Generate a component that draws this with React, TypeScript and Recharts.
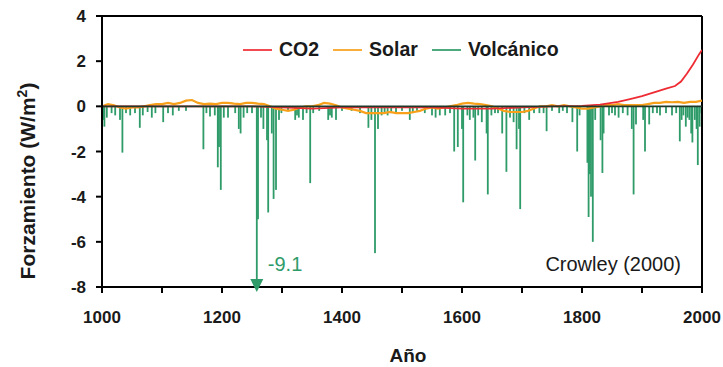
import { ComposedChart, Line, Bar, XAxis, YAxis, Legend, ReferenceLine, ReferenceDot } from 'recharts'

// CO2 forcing (W/m2)
const CO2_YEARS = [1000, 1100, 1200, 1250, 1300, 1350, 1400, 1450, 1500, 1550, 1600, 1650, 1700, 1750, 1800, 1830, 1860, 1880, 1900, 1920, 1940, 1955, 1965, 1975, 1985, 1995, 2000]
const CO2_VALUES = [0, 0, 0, 0, -0.05, -0.1, -0.05, -0.05, -0.05, -0.05, -0.1, -0.1, -0.05, 0, 0.02, 0.08, 0.2, 0.32, 0.45, 0.62, 0.78, 0.9, 1.1, 1.45, 1.85, 2.3, 2.5]

// solar forcing, one value per decade from 1000 to 2000
const SOLAR_YEARS = Array.from({ length: 101 }, (_, i) => 1000 + i * 10)
const SOLAR_VALUES = [
  0, 0.1, 0.05, -0.05, -0.1, -0.05, -0.05, 0, 0.05, 0.1,
  0.1, 0.15, 0.1, 0.15, 0.25, 0.28, 0.15, 0.1, 0.12, 0.1,
  0.15, 0.15, 0.12, 0.1, 0.15, 0.15, 0.12, 0.1, 0, -0.1,
  -0.15, -0.2, -0.15, -0.05, 0, 0, 0.05, 0.15, 0.12, 0.05,
  -0.05, -0.1, -0.15, -0.2, -0.3, -0.3, -0.3, -0.3, -0.25, -0.3,
  -0.3, -0.3, -0.25, -0.2, -0.1, -0.05, -0.1, -0.05, 0, 0.05,
  0.12, 0.15, 0.12, 0.1, 0.05, 0, -0.1, -0.2, -0.25, -0.25,
  -0.25, -0.2, -0.1, 0, 0, 0.05, 0, 0.05, 0, -0.05,
  -0.1, -0.1, -0.05, 0, 0.05, 0.05, 0.1, 0.05, 0.05, 0.05,
  0.05, 0.1, 0.15, 0.15, 0.2, 0.18, 0.2, 0.15, 0.2, 0.2,
  0.25,
]

// volcanic eruptions: year and forcing
const VOLC_YEARS = [
  1002, 1004, 1008, 1016, 1022, 1030, 1034, 1040, 1047, 1055, 1063, 1068, 1076, 1083, 1089, 1102, 1110, 1118, 1128, 1140,
  1169, 1174, 1180, 1188, 1193, 1195, 1198, 1203, 1210, 1222, 1228, 1231, 1236, 1242, 1250,
  1258, 1260, 1265, 1269, 1275, 1277, 1283, 1286, 1290, 1295, 1299, 1310, 1322, 1325, 1328, 1335, 1341, 1347, 1352, 1362,
  1377, 1380, 1383, 1390, 1400, 1416, 1430, 1444, 1449, 1455, 1460, 1466, 1471, 1476, 1482, 1490, 1500, 1513, 1518, 1525,
  1538, 1550, 1556, 1563, 1572, 1580, 1587, 1593, 1600, 1602, 1609, 1613, 1619, 1622, 1627, 1633, 1641, 1643, 1649,
  1655, 1660, 1667, 1674, 1680, 1686, 1691, 1695, 1697, 1704, 1712, 1720, 1729, 1736, 1741, 1750, 1762, 1768, 1775,
  1784, 1792, 1796, 1809, 1811, 1813, 1815, 1818, 1822, 1831, 1834, 1836, 1845, 1850, 1855, 1861, 1868,
  1876, 1883, 1886, 1890, 1902, 1905, 1912, 1918, 1925, 1930, 1940, 1950, 1957, 1963, 1966, 1969, 1973,
  1976, 1979, 1982, 1984, 1988, 1991, 1993, 1996, 1999,
]
const VOLC_VALUES = [
  -0.6, -0.9, -0.5, -0.3, -0.4, -0.6, -2.05, -0.3, -0.4, -0.3, -0.95, -0.4, -0.25, -0.5, -0.3, -0.7, -0.3, -0.4, -0.2, -0.2,
  -1.9, -0.3, -0.45, -0.4, -2.7, -1.8, -3.7, -0.5, -0.5, -0.3, -1.0, -1.2, -0.5, -0.3, -0.3,
  -9.1, -5.0, -0.5, -1.0, -1.5, -4.7, -1.2, -4.1, -3.7, -0.6, -0.3, -0.2, -0.6, -0.4, -0.5, -0.6, -0.3, -3.4, -0.3, -0.2,
  -0.6, -0.4, -0.5, -0.6, -0.2, -0.2, -0.3, -0.95, -0.6, -6.5, -1.0, -0.4, -0.3, -0.4, -0.3, -0.3, -0.2, -0.6, -0.3, -0.2,
  -0.3, -0.4, -0.5, -0.4, -0.4, -0.3, -2.0, -1.8, -1.0, -4.25, -0.4, -0.6, -0.5, -2.4, -0.4, -0.7, -1.2, -3.9, -0.4,
  -0.3, -0.3, -1.2, -2.9, -0.5, -0.7, -1.9, -1.0, -4.55, -0.3, -0.6, -0.3, -0.3, -0.3, -1.1, -0.2, -0.3, -0.2, -0.3,
  -0.7, -2.0, -0.4, -2.5, -4.9, -3.0, -4.0, -6.0, -0.6, -1.5, -2.95, -1.2, -0.4, -0.3, -0.4, -0.5, -0.3,
  -0.4, -1.0, -3.9, -0.8, -0.6, -2.0, -0.8, -0.3, -0.3, -0.4, -0.3, -0.4, -0.3, -1.55, -0.6, -0.4, -0.9,
  -0.5, -0.6, -1.2, -1.6, -0.6, -1.0, -2.6, -0.9, -0.3,
]

const X_TICKS = [1000, 1100, 1200, 1300, 1400, 1500, 1600, 1700, 1800, 1900, 2000]
const Y_TICKS = [-8, -6, -4, -2, 0, 2, 4]
const PEAK_YEAR = 1258
const PEAK_LABEL = '-9.1'

type Row = { year: number; co2?: number; solar?: number; volc?: number }

function buildRows(): Row[] {
  const map = new Map<number, Row>()
  const get = (y: number) => {
    if (!map.has(y)) map.set(y, { year: y })
    return map.get(y)!
  }
  CO2_YEARS.forEach((y, i) => { get(y).co2 = CO2_VALUES[i] })
  SOLAR_YEARS.forEach((y, i) => { get(y).solar = SOLAR_VALUES[i] })
  VOLC_YEARS.forEach((y, i) => { get(y).volc = VOLC_VALUES[i] })
  return Array.from(map.values()).sort((a, b) => a.year - b.year)
}

const data = buildRows()

const FONT = '"Liberation Sans", Arial, sans-serif'
const RED = '#ee2b33'
const ORANGE = '#f8a01a'
const GREEN = '#2e9b69'
const INK = '#1a1a1a'

const tickStyle = { fontFamily: FONT, fontSize: 17, fontWeight: 700, fill: INK }

function LegendBox({ payload }: any) {
  return (
    <div style={{ display: 'flex', alignItems: 'center', fontFamily: FONT, fontSize: 19.5, fontWeight: 700, color: INK }}>
      {(payload || []).map((p: any) => (
        <div key={p.value} style={{ display: 'flex', alignItems: 'center', marginRight: 14 }}>
          <span style={{ display: 'inline-block', width: 29, height: 2, background: p.color, marginRight: 7, opacity: 0.85 }} />
          <span>{p.value}</span>
        </div>
      ))}
    </div>
  )
}

// the numeric axis squeezes bars to sub-pixel width, so draw each spike 1.8px wide
function Spike(props: any) {
  const { x, y, width, height, fill } = props
  if (height == null || !isFinite(height)) return null
  const top = Math.min(y, y + height)
  const h = Math.abs(height)
  return <rect x={x + width / 2 - 0.9} y={top} width={1.8} height={h} fill={fill} />
}

function PeakArrow(props: any) {
  const { cx, cy } = props
  return (
    <g>
      <polygon points={`${cx - 6.5},${cy - 8} ${cx + 6.5},${cy - 8} ${cx},${cy + 5}`} fill={GREEN} />
      <text x={cx + 11} y={cy - 16} fontFamily={FONT} fontSize={20} fill={GREEN}>{PEAK_LABEL}</text>
    </g>
  )
}

export default function App() {
  return (
    <div style={{ position: 'absolute', left: 0, top: 0, width: 723, height: 367, background: '#fff' }}>
      <ComposedChart width={723} height={367} data={data} margin={{ top: 16, right: 21, bottom: 0, left: 0 }}>
        <XAxis
          dataKey="year"
          type="number"
          domain={[1000, 2000]}
          ticks={X_TICKS}
          tickFormatter={(v: number) => (v % 200 === 0 ? String(v) : '')}
          height={80}
          tickSize={6}
          tickMargin={18}
          tick={tickStyle}
          axisLine={{ stroke: '#000', strokeWidth: 2 }}
          tickLine={{ stroke: '#000', strokeWidth: 2 }}
          allowDataOverflow
        />
        <YAxis
          type="number"
          domain={[-8, 4]}
          ticks={Y_TICKS}
          width={102}
          tickSize={6}
          tickMargin={10}
          tick={tickStyle}
          axisLine={{ stroke: '#000', strokeWidth: 2 }}
          tickLine={{ stroke: '#000', strokeWidth: 2 }}
          allowDataOverflow
        />
        <Legend
          layout="horizontal"
          verticalAlign="middle"
          align="center"
          content={LegendBox}
          wrapperStyle={{ left: 243, top: 38, width: 'auto', height: 24 }}
        />
        <ReferenceLine y={4} stroke="#000" strokeWidth={2} />
        <ReferenceLine x={2000} stroke="#000" strokeWidth={2} />
        <Bar dataKey="volc" name="Volcánico" fill={GREEN} shape={Spike} isAnimationActive={false} legendType="line" />
        <Line dataKey="solar" name="Solar" stroke={ORANGE} strokeWidth={2.2} dot={false} connectNulls isAnimationActive={false} />
        <Line dataKey="co2" name="CO2" stroke={RED} strokeWidth={1.8} dot={false} connectNulls isAnimationActive={false} />
        <ReferenceLine y={0} stroke="#1f3a2c" strokeWidth={1.6} />
        <ReferenceDot x={PEAK_YEAR} y={-8} ifOverflow="visible" shape={PeakArrow} />
        <text x={681} y={271} textAnchor="end" fontFamily={FONT} fontSize={20} fill={INK}>Crowley (2000)</text>
        <text x={408} y={362} textAnchor="middle" fontFamily={FONT} fontSize={19} fontWeight={700} fill={INK}>Año</text>
        <text transform="rotate(-90)" x={-181} y={35} textAnchor="middle" fontFamily={FONT} fontSize={21} fontWeight={700} fill={INK}>
          Forzamiento (W/m<tspan dy={-8} fontSize={14}>2</tspan><tspan dy={8}>)</tspan>
        </text>
      </ComposedChart>
    </div>
  )
}
